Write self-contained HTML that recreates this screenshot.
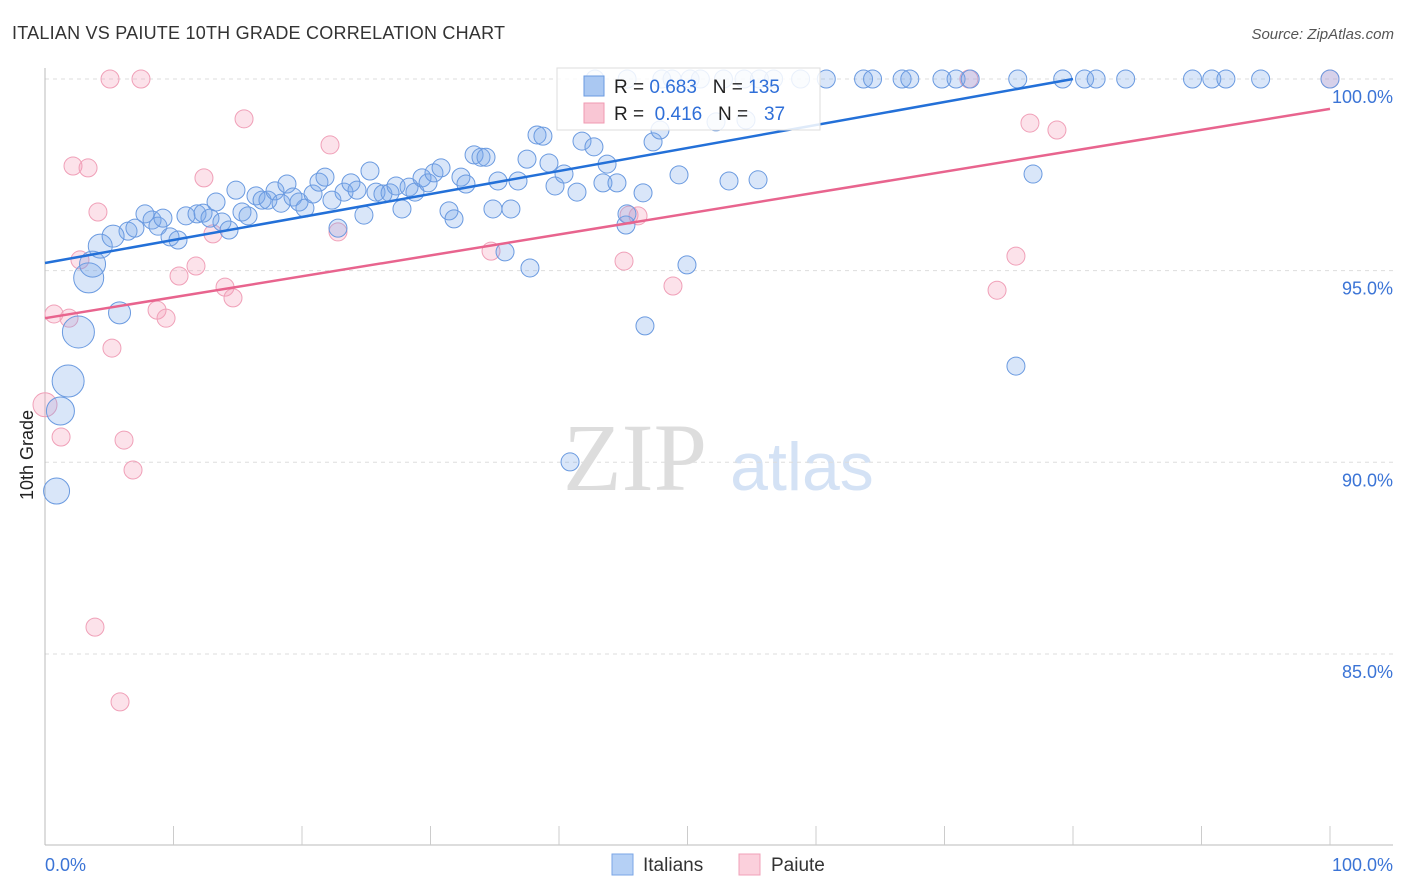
<!DOCTYPE html>
<html><head><meta charset="utf-8"><style>
body{margin:0;background:#fff;font-family:"Liberation Sans",sans-serif;}
svg{display:block}
</style></head><body>
<svg id="chart" width="1406" height="892" xmlns="http://www.w3.org/2000/svg">
<text x="12" y="39" font-size="18" fill="#333" textLength="493">ITALIAN VS PAIUTE 10TH GRADE CORRELATION CHART</text>
<text x="1394" y="39" font-size="15" fill="#555" text-anchor="end" font-style="italic">Source: ZipAtlas.com</text>
<text x="33" y="455" font-size="18" fill="#222" text-anchor="middle" transform="rotate(-90 33 455)">10th Grade</text>
<g><text x="635" y="490" font-size="96" fill="#ddd" font-family="Liberation Serif,serif" text-anchor="middle">ZIP</text><text x="802" y="490" font-size="68" fill="#d4e2f5" text-anchor="middle">atlas</text></g>
<g id="grid"></g><g id="axes"></g><g id="pink"></g><g id="blue"></g><g id="lines"></g>
<g>
<rect x="557" y="68" width="263" height="62" fill="#fff" fill-opacity="0.85" stroke="#ddd"/>
<rect x="584" y="76" width="20" height="20" fill="#aac8f2" stroke="#6a9ae0"/>
<rect x="584" y="103" width="20" height="20" fill="#f9c6d4" stroke="#f09ab2"/>
<text x="614" y="93" font-size="19" fill="#222" xml:space="preserve">R = <tspan fill="#2f6fd8">0.683</tspan>   N = <tspan fill="#2f6fd8">135</tspan></text>
<text x="614" y="120" font-size="19" fill="#222" xml:space="preserve">R =  <tspan fill="#2f6fd8">0.416</tspan>   N =   <tspan fill="#2f6fd8">37</tspan></text>
</g>
<g>
<rect x="612" y="854" width="21" height="21" fill="#b5d0f5" stroke="#7aa6e6"/>
<text x="643" y="871" font-size="19" fill="#333">Italians</text>
<rect x="739" y="854" width="21" height="21" fill="#fbd0dc" stroke="#f0a0b8"/>
<text x="771" y="871" font-size="19" fill="#333">Paiute</text>
</g>
</svg>
<script>
const yTicks=[100,95,90,85];
const xTickLabels=["0.0%","100.0%"];
const blueX=[6.46,7.0,7.78,8.33,8.79,9.18,9.73,10.35,10.97,11.83,12.3,12.84,13.31,13.77,14.32,14.86,15.33,15.8,16.42,16.89,17.35,17.9,18.37,18.83,19.3,19.77,20.23,20.86,21.32,21.79,22.33,22.8,23.27,23.81,24.28,24.82,25.29,25.76,26.3,26.85,27.32,27.78,28.33,28.79,29.34,29.81,30.27,30.82,31.44,31.83,32.37,32.76,33.39,33.93,34.32,34.86,35.25,35.8,36.26,36.81,37.51,37.74,38.29,38.75,39.22,39.69,40.39,40.86,41.4,41.79,42.72,43.42,43.74,44.51,45.21,45.29,46.54,46.69,47.32,47.86,49.34,49.96,52.22,53.23,54.55,55.49,75.56,76.89,
42.8,45.3,48.0,48.8,50.2,51.0,52.8,54.4,55.6,56.7,58.8,60.8,63.7,64.4,66.7,67.3,69.8,70.9,72.0,75.7,79.2,80.9,81.8,84.1,89.3,90.8,91.9,94.6,100];
const blueY=[96.03,96.11,96.48,96.32,96.16,96.37,95.88,95.8,96.43,96.48,96.5,96.37,96.79,96.27,96.06,97.1,96.53,96.43,96.95,96.84,96.84,97.08,96.76,97.26,96.92,96.79,96.63,97.0,97.31,97.44,96.84,96.11,97.05,97.29,97.1,96.45,97.6,97.05,97.0,97.03,97.21,96.61,97.18,97.05,97.42,97.29,97.55,97.68,96.56,96.35,97.44,97.26,98.02,97.96,97.96,96.61,97.34,95.49,96.61,97.34,97.91,95.07,98.54,98.51,97.81,97.21,97.52,90.01,97.05,98.38,98.23,97.29,97.78,97.29,96.19,96.48,97.03,93.56,98.36,98.67,97.5,95.15,98.88,97.34,98.93,97.37,92.51,97.52,
100,100,100,100,100,100,100,100,100,100,100,100,100,100,100,100,100,100,100,100,100,100,100,100,100,100,100,100,100];
const bigBlueX=[0.9,1.2,1.8,2.6,3.4,3.7,4.3,5.3,5.8];
const bigBlueY=[89.25,91.34,92.12,93.4,94.81,95.17,95.64,95.9,93.9];
const bigBlueSize=[13,14,16,16,15,13,12,11,11];
const pinkX=[0,0.7,1.87,1.25,2.18,3.35,4.12,2.72,3.89,5.06,5.21,5.84,6.15,6.85,7.47,8.72,9.42,10.43,11.75,12.37,13.07,14.01,14.63,15.49,22.18,22.8,34.71,45.06,45.45,46.15,48.87,71.9,74.09,75.56,76.65,78.75,100];
const pinkY=[91.5,93.87,93.76,90.66,97.73,97.68,96.53,95.28,85.7,100,92.98,83.75,90.58,89.8,100,93.97,93.76,94.86,95.12,97.42,95.96,94.57,94.29,98.96,98.28,96.01,95.51,95.25,96.45,96.43,94.6,100,94.49,95.38,98.85,98.67,100];
const blueTrend=[0,95.2,80,100];
const pinkTrend=[0,93.76,100,99.22];
const NS="http://www.w3.org/2000/svg";
const X=v=>45+v*12.85;
const Y=v=>79+(100-v)*38.33;
function mk(t,p,a){const e=document.createElementNS(NS,t);for(const k in a)e.setAttribute(k,a[k]);p.appendChild(e);return e;}
const grid=document.getElementById('grid'),axes=document.getElementById('axes');
yTicks.forEach(t=>{
 const l=mk('line',grid,{x1:45,x2:1393,y1:Y(t),y2:Y(t),stroke:'#ddd','stroke-dasharray':'4,4'});
 
 
 const tx=mk('text',axes,{x:1393,y:Y(t)+24,'font-size':18,fill:'#3b74d6','text-anchor':'end'});
 tx.textContent=t.toFixed(1)+'%';
 
 
});
const ax=mk('line',axes,{x1:45,x2:1393,y1:845,y2:845,stroke:'#bbb'});


const ay=mk('line',axes,{x1:45,x2:45,y1:68,y2:845,stroke:'#bbb'});


for(let i=1;i<=10;i++){const tk=mk('line',axes,{x1:X(i*10),x2:X(i*10),y1:826,y2:845,stroke:'#ccc'});
 
 }
[0,100].forEach((v,i)=>{const t=mk('text',axes,{x:i?1393:45,y:871,'font-size':18,fill:'#3b74d6','text-anchor':i?'end':'start'});
 t.textContent=xTickLabels[i];
 
 });
const pg=document.getElementById('pink'),bg=document.getElementById('blue');
pinkX.forEach((x,i)=>{const c=mk('circle',pg,{cx:X(x),cy:Y(pinkY[i]),r:i==0?12:9,fill:'rgba(245,160,185,0.3)',stroke:'#f0a0b8','stroke-width':1});
 
 });
blueX.forEach((x,i)=>{const c=mk('circle',bg,{cx:X(x),cy:Y(blueY[i]),r:9,fill:'rgba(120,165,235,0.28)',stroke:'#6a9ae0','stroke-width':1});
 
 });
bigBlueX.forEach((x,i)=>{const c=mk('circle',bg,{cx:X(x),cy:Y(bigBlueY[i]),r:bigBlueSize[i],fill:'rgba(120,165,235,0.28)',stroke:'#6a9ae0','stroke-width':1});
 
 });
const lg=document.getElementById('lines');
const bl=mk('line',lg,{x1:X(blueTrend[0]),y1:Y(blueTrend[1]),x2:X(blueTrend[2]),y2:Y(blueTrend[3]),stroke:'#2370d8','stroke-width':2.5});


const pl=mk('line',lg,{x1:X(pinkTrend[0]),y1:Y(pinkTrend[1]),x2:X(pinkTrend[2]),y2:Y(pinkTrend[3]),stroke:'#e8648e','stroke-width':2.5});


</script>
</body></html>
